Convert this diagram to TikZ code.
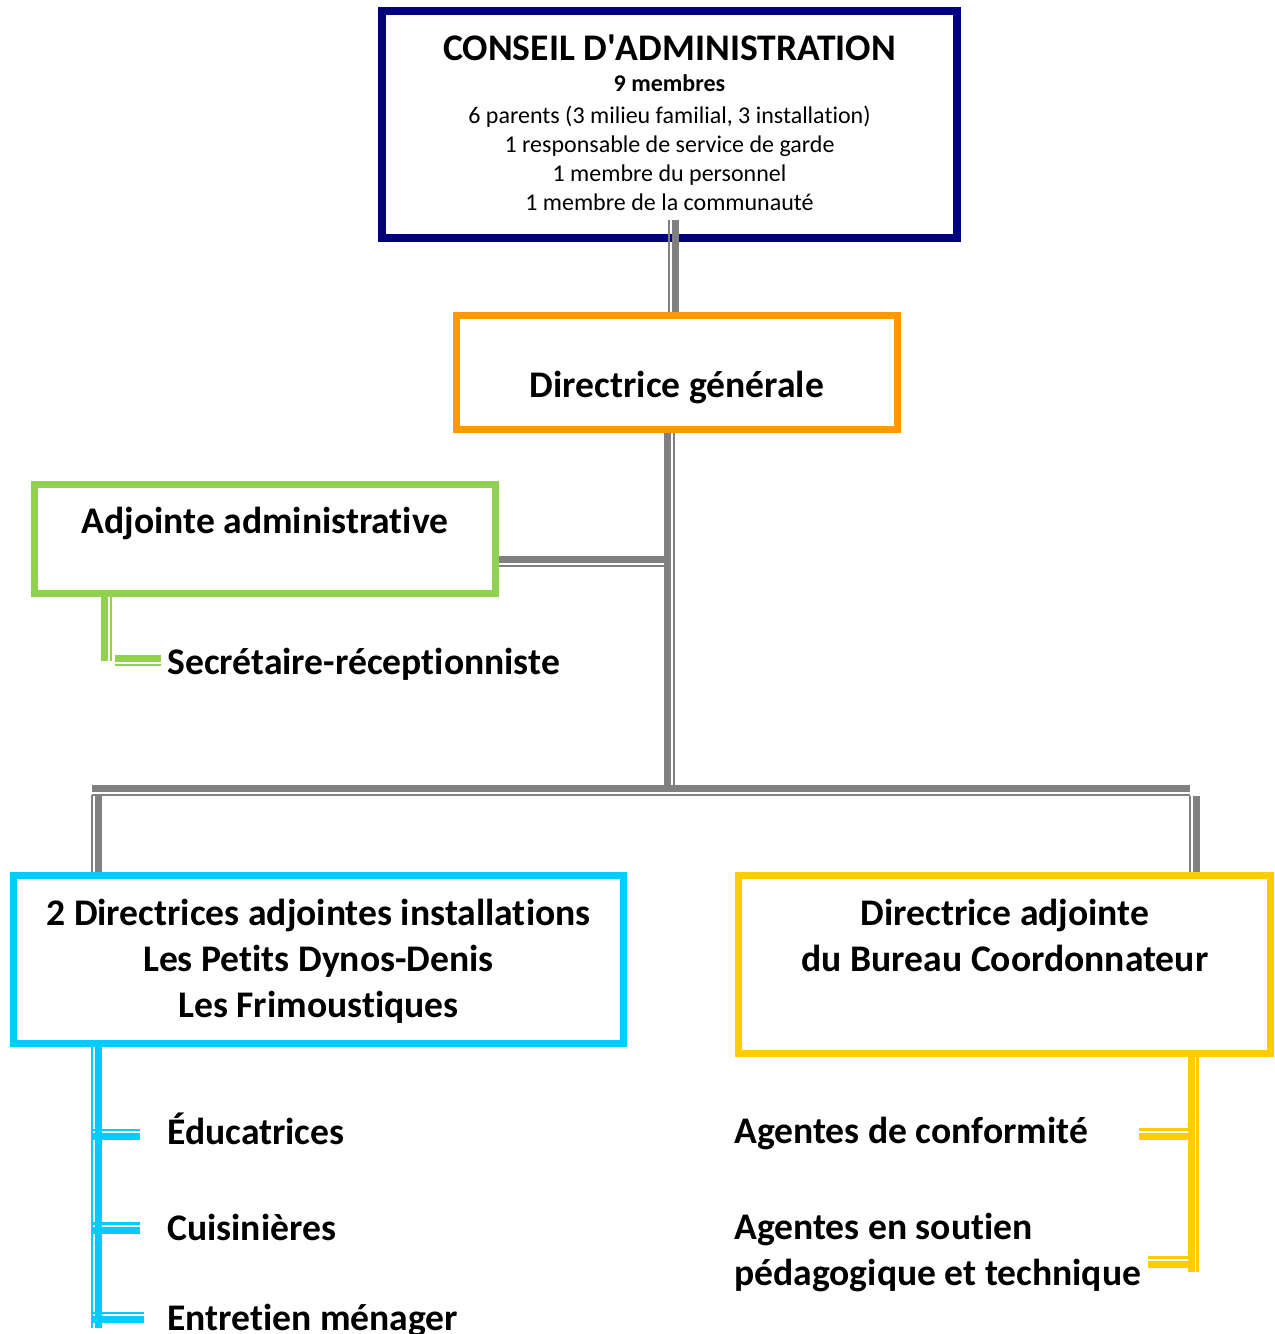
\documentclass[tikz,border=0pt]{standalone}
\usepackage{fontspec}
\setmainfont{Carlito}[Ligatures=NoCommon]
\usetikzlibrary{positioning}
\definecolor{cablue}{RGB}{0,0,128}
\definecolor{dgorange}{RGB}{255,153,0}
\definecolor{aagreen}{RGB}{146,208,80}
\definecolor{dicyan}{RGB}{0,204,255}
\definecolor{buyellow}{RGB}{255,204,0}
\definecolor{linkgray}{RGB}{128,128,128}
\newcommand{\straightapos}{\XeTeXglyph\XeTeXcharglyph"0027\relax}

\tikzset{
  box/.style={draw=#1, line width=3.5pt, inner sep=0pt},
  bigtext/.style={font=\bfseries\fontsize{18.8}{23}\selectfont, align=center, inner sep=0pt},
  smalltext/.style={font=\fontsize{12}{14.5}\selectfont, align=center, inner sep=0pt},
  link/.style={draw=#1, line width=3.5pt},
  link/.default=linkgray,
  thinleft/.style={postaction={draw, line width=1.25pt, transform canvas={xshift=-3.25pt}}},
  thinright/.style={postaction={draw, line width=1.25pt, transform canvas={xshift=3.25pt}}},
  thinbelow/.style={postaction={draw, line width=1.25pt, transform canvas={yshift=-3.25pt}}},
  thinabove/.style={postaction={draw, line width=1.25pt, transform canvas={yshift=3.25pt}}}
}

\begin{document}
\begin{tikzpicture}[x=0.5pt, y=-0.5pt]
  \useasboundingbox (0,0) rectangle (1275,1334);

  % boxes
  \node[box=cablue, line width=4pt, minimum width=287.5pt, minimum height=113.5pt] (ca) at (669.5,124.5) {};
  \node[box=dgorange, minimum width=220.5pt, minimum height=57pt] (dg) at (677,372.5) {};
  \node[box=aagreen, minimum width=230.5pt, minimum height=54.5pt] (aa) at (265,539) {};
  \node[box=dicyan, minimum width=305pt, minimum height=84pt] (di) at (318.5,959.5) {};
  \node[box=buyellow, minimum width=266pt, minimum height=89pt] (bu) at (1004.5,964.5) {};

  % texts (multi-line nodes sit on their last baseline)
  \node[bigtext, anchor=base] (caTitle) at (669.5,60) {CONSEIL D\straightapos ADMINISTRATION};
  \node[smalltext, anchor=base] (caMembers) at (669.5,210) {\textbf{9 membres}\\[1.5pt]6 parents (3 milieu familial, 3 installation)\\1 responsable de service de garde\\1 membre du personnel\\1 membre de la communauté};
  \node[bigtext, anchor=base] (dgText) at (677,397) {Directrice générale};
  \node[bigtext, anchor=base] (aaText) at (265,533) {Adjointe administrative};
  \node[bigtext, anchor=base west] (sec) at (167,674) {Secrétaire-réceptionniste};
  \node[bigtext, anchor=base] (diText) at (318.5,1017) {2 Directrices adjointes installations\\Les Petits Dynos-Denis\\Les Frimoustiques};
  \node[bigtext, anchor=base] (buText) at (1005,971) {Directrice adjointe\\du Bureau Coordonnateur};
  \node[bigtext, anchor=base west] (edu) at (167,1144) {Éducatrices};
  \node[bigtext, anchor=base west] (cui) at (167,1240) {Cuisinières};
  \node[bigtext, anchor=base west] (ent) at (167,1330) {Entretien ménager};
  \node[bigtext, anchor=base west] (conf) at (734,1143) {Agentes de conformité};
  \node[bigtext, anchor=base west, align=left] (sout) at (734,1285) {Agentes en soutien\\pédagogique et technique};

  % gray links
  \coordinate (hub) at (667.5,788.5);
  \coordinate (aaJoin) at (670,559.5);
  \coordinate (busW) at (92,788.5);
  \coordinate (busE) at (1190,788.5);
  \coordinate (dropW) at (98.5,795);
  \coordinate (dropE) at (1196.5,796);
  \draw[link, thinright] (hub |- dg.south) -- (hub);
  \draw[link, thinbelow] (aa.east |- aaJoin) -- (aaJoin);
  \draw[link, thinbelow] (busW) -- (busE);
  \draw[link, thinleft] (dropW) -- (dropW |- di.north);
  \draw[link, thinleft] (dropE) -- (dropE |- bu.north);
  \coordinate (caLink) at (675.5,220);
  \draw[link, thinleft] (caLink) -- (caLink |- dg.north);

  % green link
  \coordinate (secBend) at (104.5,661);
  \coordinate (secTick) at (115,658.5);
  \draw[link=aagreen, thinright] (secBend |- aa.south) -- (secBend);
  \draw[link=aagreen, thinbelow] (secTick) -- ([xshift=-3pt]sec.west |- secTick);

  % cyan links
  \coordinate (diBase) at (98.5,1328);
  \draw[link=dicyan, thinleft] (diBase |- di.south) -- (diBase);
  \foreach \name/\ty/\tx in {eduTick/1136.5/140, cuiTick/1230/140, entTick/1319.5/144}{
    \coordinate (\name) at (\tx,\ty);
    \draw[link=dicyan, thinabove] (91,\ty) -- (\name);
  }

  % yellow links
  \coordinate (buBase) at (1191,1272);
  \draw[link=buyellow, thinright] (buBase |- bu.south) -- (buBase);
  \foreach \name/\ty/\tx in {confTick/1136/1139, soutTick/1264/1148}{
    \coordinate (\name) at (\tx,\ty);
    \draw[link=buyellow, thinabove] (\name) -- (1190,\ty);
  }
\end{tikzpicture}
\end{document}
